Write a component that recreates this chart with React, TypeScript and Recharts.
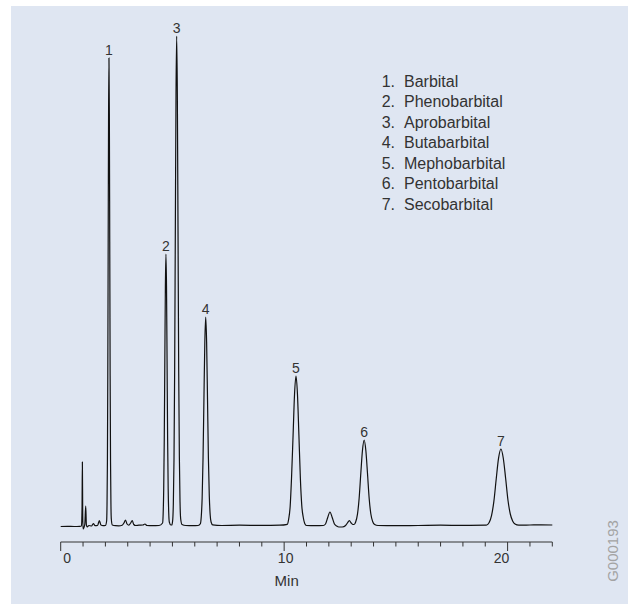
import { ComposedChart, Line, XAxis, YAxis, ReferenceDot } from "recharts";

// retention time (min) and detector signal (arbitrary units, baseline = 0)
const times = [
  0, 0.3, 0.6, 0.85, 0.93, 0.955, 0.97, 0.985, 1.0, 1.04, 1.08, 1.12, 1.15, 1.19, 1.26,
  1.38, 1.46, 1.54, 1.65, 1.73, 1.8, 1.9, 2.0,
  2.055, 2.0725, 2.09, 2.1075, 2.125, 2.1425, 2.16, 2.1775, 2.195, 2.2125, 2.23, 2.2475, 2.265, 2.31,
  2.45, 2.6, 2.75, 2.83, 2.9, 2.97, 3.05, 3.13, 3.2, 3.27, 3.35, 3.5, 3.68, 3.77, 3.86, 4.1, 4.4,
  4.56, 4.585, 4.61, 4.635, 4.66, 4.685, 4.71, 4.735, 4.76, 4.785, 4.81, 4.835, 4.86, 4.93, 4.97,
  5.01, 5.04, 5.07, 5.1, 5.13, 5.16, 5.19, 5.22, 5.25, 5.28, 5.31, 5.34, 5.37, 5.43,
  5.6, 5.9, 6.15,
  6.25, 6.29, 6.33, 6.37, 6.41, 6.45, 6.49, 6.53, 6.57, 6.61, 6.65, 6.69, 6.73, 6.8,
  7.2, 8.0, 9.0, 9.8,
  10.14, 10.2, 10.27, 10.33, 10.4, 10.465, 10.53, 10.595, 10.66, 10.725, 10.79, 10.86, 10.92, 11.0,
  11.4, 11.75, 11.85, 11.95, 12.05, 12.15, 12.25, 12.35, 12.45, 12.6, 12.75, 12.83, 12.92, 13.0, 13.08,
  13.13, 13.2, 13.28, 13.355, 13.43, 13.505, 13.58, 13.655, 13.73, 13.805, 13.88, 13.96, 14.05, 14.2,
  15.0, 16.0, 17.0, 18.0, 19.0,
  19.07, 19.175, 19.28, 19.385, 19.49, 19.595, 19.7, 19.805, 19.91, 20.015, 20.12, 20.225, 20.33, 20.5,
  21.0, 21.5, 22.0,
];

const signal = [
  -0.5, -0.3, -0.5, -0.3, 0, 18, 64, 12, -3, -1.5, 2, 20, 1, -1, 0.5,
  0, 2.5, 0.3, 0.5, 5.5, 1, 0.3, 0.5,
  5, 20.6, 63, 150, 284, 412, 468, 412, 284, 150, 65, 23, 7, 1,
  0.3, 0.2, 0.8, 3, 6, 2, 0.8, 3, 5.5, 1.5, 0.5, 0.8, 1, 2, 0.5, 0.3, 0.5,
  3, 12, 37, 87, 166, 240, 272, 240, 166, 87, 37, 13, 4, 1, 1,
  5.4, 21.6, 66, 157, 297, 431, 490, 431, 297, 157, 70, 24, 7, 1.5,
  0.5, 0.3, 0.5,
  2.3, 9.2, 28, 68, 127, 184, 209, 184, 127, 68, 30, 11, 4, 1.2,
  0.5, 0.8, 0.6, 0.8,
  1.7, 6.6, 20, 48, 91, 132, 150, 132, 91, 48, 20, 8, 2.5, 0.5,
  0.3, 0.5, 2, 8.5, 14, 8.5, 2, 0, -1, -1, 0.5, 3, 5.3, 3, 1.5,
  1.5, 4, 11.6, 27.5, 52.5, 75.7, 86, 75.7, 52.5, 27.5, 12, 4.5, 1.5, 0.5,
  0.3, 0.5, 0.8, 0.6, 0.8,
  1, 3.4, 10.4, 24.6, 47, 67.8, 77, 68, 48, 26, 12, 5, 2, 0.8,
  1, 1.2, 1,
];

const peakTimes = [2.16, 4.71, 5.19, 6.49, 10.53, 13.58, 19.7];
const peakHeights = [468, 272, 490, 209, 150, 86, 77];
const peakLabels = ["1", "2", "3", "4", "5", "6", "7"];

const compoundNames = [
  "Barbital",
  "Phenobarbital",
  "Aprobarbital",
  "Butabarbital",
  "Mephobarbital",
  "Pentobarbital",
  "Secobarbital",
];

const minuteTicks = [0, 1, 2, 3, 4, 5, 6, 7, 8, 9, 10, 11, 12, 13, 14, 15, 16, 17, 18, 19, 20, 21, 22];
const labelledTicks = [0, 10, 20];

const trace = times.map((t, i) => ({ t, v: signal[i] }));

const FONT = '"Liberation Sans", Arial, sans-serif';
const INK = "#333";

// the original figure places its tick numbers a little off their ticks
const tickLabelShift: Record<number, number> = { 0: 6.5, 10: 1.5, 20: -6 };

function MinuteTick({ x, y, payload }: { x?: number; y?: number; payload?: { value: number } }) {
  if (x == null || y == null || !payload) return null;
  const v = payload.value;
  const major = labelledTicks.includes(v);
  return (
    <g>
      <line x1={x} x2={x} y1={y} y2={y + (major ? 9 : 4.5)} stroke={INK} strokeWidth={1} />
      {major && (
        <text
          x={x + (tickLabelShift[v] ?? 0)}
          y={y + 21}
          textAnchor="middle"
          fontSize={14}
          fontFamily={FONT}
          fill={INK}
        >
          {v}
        </text>
      )}
    </g>
  );
}

export default function App() {
  return (
    <div
      style={{
        position: "absolute",
        left: 0,
        top: 0,
        width: 628,
        height: 604,
        background: "#fff",
        overflow: "hidden",
        fontFamily: FONT,
      }}
    >
      <div
        style={{
          position: "absolute",
          left: 11,
          top: 6,
          right: 0,
          bottom: 0,
          background: "#dfe6f2",
        }}
      />

      <ComposedChart
        width={628}
        height={604}
        data={trace}
        margin={{ top: 26, right: 75.7, left: 60.7, bottom: 22 }}
        style={{ position: "absolute", left: 0, top: 0 }}
      >
        <XAxis
          dataKey="t"
          type="number"
          domain={[0, 22]}
          ticks={minuteTicks}
          interval={0}
          height={40}
          tickSize={0}
          tickMargin={0}
          tickLine={false}
          axisLine={{ stroke: INK, strokeWidth: 1 }}
          tick={<MinuteTick />}
        />
        <YAxis hide type="number" domain={[-16, 500]} allowDataOverflow />

        <Line
          type="monotone"
          dataKey="v"
          stroke="#111"
          strokeWidth={1.2}
          dot={false}
          activeDot={false}
          isAnimationActive={false}
        />

        {peakTimes.map((t, i) => (
          <ReferenceDot
            key={peakLabels[i]}
            x={t}
            y={peakHeights[i]}
            r={0}
            fill="none"
            stroke="none"
            label={{
              value: peakLabels[i],
              position: "top",
              offset: 3,
              fontSize: 14,
              fontFamily: FONT,
              fill: INK,
            }}
          />
        ))}
      </ComposedChart>

      <div
        style={{
          position: "absolute",
          left: 381.7,
          top: 71.5,
          fontSize: 16,
          lineHeight: "20.5px",
          color: INK,
          whiteSpace: "nowrap",
        }}
      >
        {compoundNames.map((name, i) => (
          <div key={name} style={{ display: "flex" }}>
            <span style={{ width: 22.3 }}>{i + 1}.</span>
            <span>{name}</span>
          </div>
        ))}
      </div>

      <div
        style={{
          position: "absolute",
          left: 266.7,
          top: 571,
          width: 40,
          textAlign: "center",
          fontSize: 15,
          lineHeight: "19px",
          color: INK,
        }}
      >
        Min
      </div>

      <div
        style={{
          position: "absolute",
          left: 611.7,
          top: 551,
          transform: "translate(-50%, -50%) rotate(-90deg)",
          fontSize: 15,
          lineHeight: "17px",
          color: "#a3a3a3",
          whiteSpace: "nowrap",
        }}
      >
        G000193
      </div>
    </div>
  );
}
